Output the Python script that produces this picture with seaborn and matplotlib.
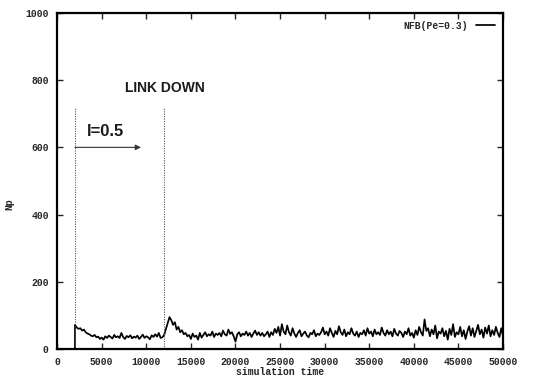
import numpy as np
import pandas as pd
import matplotlib
matplotlib.use("Agg")
import matplotlib.pyplot as plt
import seaborn as sns

# Np sampled every 200 time units from t = 2000 to t = 50000
t_start, t_end, t_step = 2000, 50000, 200
np_values = [
    72, 64, 60, 62, 55,   58, 50, 46, 44, 40,   38, 42, 35, 37, 30,
    34, 28, 38, 33, 40,   36, 31, 42, 35, 38,   33, 48, 36, 30, 39,
    35, 41, 32, 37, 34,   40, 30, 36, 43, 33,   38, 35, 29, 41, 36,
    44, 37, 48, 33, 35,   42, 60, 78, 95, 86,   72, 80, 58, 66, 50,
    56, 44, 48, 38, 42,   30, 46, 36, 40, 28,   48, 34, 42, 50, 38,
    44, 40, 52, 36, 46,   42, 48, 38, 55, 44,   40, 58, 45, 50, 38,
    22, 44, 50, 38, 46,   42, 52, 40, 48, 36,   46, 55, 42, 50, 40,
    48, 38, 44, 52, 36,   50, 42, 60, 48, 66,   40, 74, 52, 44, 70,
    50, 40, 62, 46, 36,   48, 56, 38, 46, 52,   40, 35, 48, 44, 56,
    38, 46, 42, 50, 64,   44, 52, 40, 62, 48,   36, 54, 44, 68, 50,
    42, 58, 38, 50, 44,   62, 46, 40, 52, 36,   48, 44, 56, 40, 62,
    46, 52, 38, 58, 44,   50, 42, 64, 48, 40,   56, 44, 52, 38, 60,
    46, 40, 54, 48, 36,   52, 44, 62, 40, 48,   34, 56, 42, 66, 50,
    40, 88, 54, 62, 38,   58, 44, 70, 32, 52,   46, 62, 38, 54, 28,
    60, 42, 74, 36, 50,   44, 66, 38, 56, 30,   52, 68, 40, 62, 36,
    54, 72, 44, 58, 34,   64, 46, 70, 38, 56,   42, 66, 48, 36, 62,
    40,
]
series_label = "NFB(Pe=0.3)"

# Event markers
event_times = [2000, 12000]
event_top = 720
arrow_from, arrow_to, arrow_level = 2000, 9400, 600
load_label = "l=0.5"
link_label = "LINK DOWN"

x_ticks = list(range(0, 50001, 5000))
y_ticks = list(range(0, 1001, 200))

sim_time = np.arange(t_start, t_end + 1, t_step)
df = pd.DataFrame({"simulation time": np.concatenate([[0, t_start - 1], sim_time]),
                   "Np": [0, 0] + np_values})

sns.set_style("ticks")
plt.rcParams["font.family"] = ["Liberation Mono", "DejaVu Sans Mono"]

fig = plt.figure(figsize=(5.34, 3.79), dpi=100)
ax = fig.add_axes([0.107, 0.079, 0.835, 0.887])

sns.lineplot(data=df, x="simulation time", y="Np", ax=ax, color="black",
             linewidth=1.25, label=series_label)

ax.vlines(event_times, 0, event_top, colors="#555555", linestyles=(0, (1, 1.2)),
          linewidth=0.8)
ax.annotate("", xy=(arrow_to, arrow_level), xytext=(arrow_from, arrow_level),
            arrowprops=dict(arrowstyle="-|>", color="#333333", lw=0.8,
                            mutation_scale=8, shrinkA=0, shrinkB=0))
ax.text(3300, 648, load_label, fontsize=12, family="Liberation Sans",
        fontweight="bold", va="center", ha="left", color="#1a1a1a")
ax.text(7600, 778, link_label, fontsize=10, family="Liberation Sans",
        fontweight="bold", va="center", ha="left", color="#1a1a1a")

ax.set_xlim(0, 50000)
ax.set_ylim(0, 1000)
ax.set_xticks(x_ticks)
ax.set_yticks(y_ticks)
ax.tick_params(direction="in", length=4, width=1, top=True, right=True,
               labelsize=7, pad=6)
for lab in ax.get_xticklabels() + ax.get_yticklabels():
    lab.set_fontweight("bold")
for sp in ax.spines.values():
    sp.set_visible(True)
    sp.set_linewidth(1.6)
    sp.set_color("black")

ax.set_xlabel("simulation time", fontsize=7, fontweight="bold", labelpad=0)
ax.set_ylabel("Np", fontsize=7, fontweight="bold")
ax.yaxis.set_label_coords(-0.095, 0.43)

leg = ax.legend(loc="upper right", frameon=False, markerfirst=False,
                handlelength=2.0, fontsize=7, borderaxespad=0.4,
                handletextpad=0.8)
for txt in leg.get_texts():
    txt.set_fontweight("bold")

fig.savefig("out.png", dpi=100)
